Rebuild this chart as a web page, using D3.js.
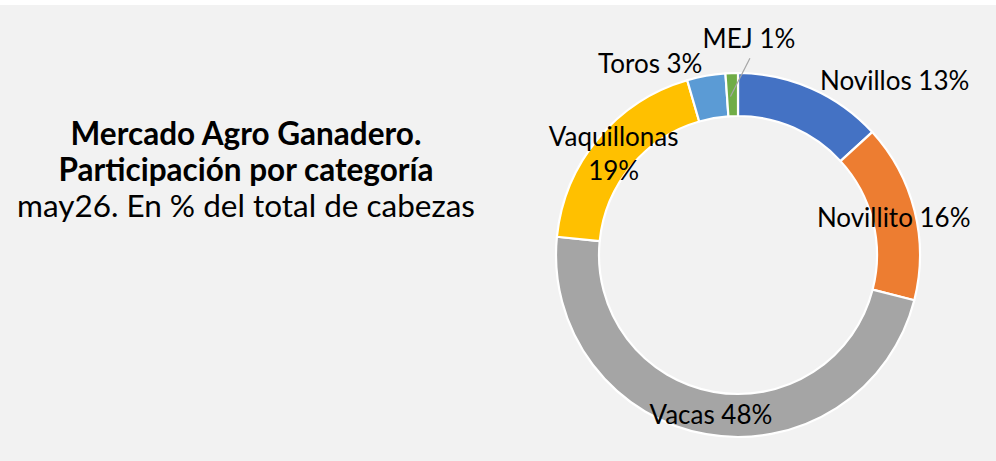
<!DOCTYPE html>
<html>
<head>
<meta charset="utf-8">
<script src="https://cdn.jsdelivr.net/npm/d3@7"></script>
<style>
  html, body { margin: 0; padding: 0; background: #ffffff; }
  svg { display: block; }
</style>
</head>
<body>
<svg id="chart" width="996" height="461"></svg>
<script>
// ---- data ----
const categories = ["Novillos", "Novillito", "Vacas", "Vaquillonas", "Toros", "MEJ"];
const shares = [13.2, 15.8, 47.6, 18.9, 3.4, 1.1];
const colors = ["#4472C4", "#ED7D31", "#A5A5A5", "#FFC000", "#5B9BD5", "#70AD47"];
const titleLines = ["Mercado Agro Ganadero.", "Participación por categoría", "may26. En % del total de cabezas"];

// ---- layout ----
const W = 996, H = 461;
const cx = 738, cy = 255, rOuter = 182, rInner = 139;
const labelFont = "Lato, 'Open Sans', sans-serif";
const labelSize = 26;
// label placement: offset from arc centroid (dx, dy) for vertical middle of label
const labelLayout = [
  { dx: 92, dy: -27, lines: 1 },   // Novillos
  { dx: 0, dy: 2, lines: 1 },      // Novillito
  { dx: 1, dy: 2, lines: 1 },      // Vacas
  { dx: -1, dy: 2, lines: 2 },     // Vaquillonas
  { lines: 1 },                    // Toros (polar)
  { lines: 1, leader: true }       // MEJ (polar)
];
const outerLabelPolar = { 4: { ang: -24.7, r: 210 }, 5: { ang: 2.9, r: 216 } };

const svg = d3.select("#chart");
svg.append("rect").attr("x", 0).attr("y", 5).attr("width", W).attr("height", H - 5).attr("fill", "#f2f2f2");

// title
const title = svg.append("text")
  .attr("text-anchor", "middle")
  .attr("font-family", labelFont)
  .attr("fill", "#000");
const titleY = [145, 181, 217];
titleLines.forEach((t, i) => {
  title.append("tspan")
    .attr("x", 246)
    .attr("y", titleY[i])
    .attr("font-size", 31.5)
    .attr("font-weight", i < 2 ? "bold" : "normal")
    .text(t);
});

const pie = d3.pie().sort(null).value(d => d).startAngle(0).endAngle(2 * Math.PI);
const arcs = pie(shares);
const arc = d3.arc().innerRadius(rInner).outerRadius(rOuter);
const mid = d3.arc().innerRadius((rInner + rOuter) / 2).outerRadius((rInner + rOuter) / 2);

const g = svg.append("g").attr("transform", `translate(${cx},${cy})`);
g.selectAll("path.slice")
  .data(arcs)
  .join("path")
  .attr("class", "slice")
  .attr("d", arc)
  .attr("fill", (d, i) => colors[i])
  .attr("stroke", "#ffffff")
  .attr("stroke-width", 2.2)
  .attr("stroke-linejoin", "round");

// labels
const pct = v => Math.round(v) + "%";
arcs.forEach((d, i) => {
  const L = labelLayout[i];
  let x, y;
  if (outerLabelPolar[i]) {
    const a = outerLabelPolar[i].ang * Math.PI / 180;
    x = Math.sin(a) * outerLabelPolar[i].r;
    y = -Math.cos(a) * outerLabelPolar[i].r;
  } else {
    const c = mid.centroid(d);
    x = c[0] + L.dx;
    y = c[1] + L.dy;
  }
  const t = g.append("text")
    .attr("text-anchor", "middle")
    .attr("font-family", labelFont)
    .attr("font-size", labelSize)
    .attr("fill", "#000");
  if (L.lines === 2) {
    t.append("tspan").attr("x", x).attr("y", y - 17).attr("dy", "0.35em").text(categories[i]);
    t.append("tspan").attr("x", x).attr("y", y + 17).attr("dy", "0.35em").text(pct(shares[i]));
  } else {
    t.append("tspan").attr("x", x).attr("y", y).attr("dy", "0.35em").text(categories[i] + " " + pct(shares[i]));
  }
  if (L.leader) {
    const c = mid.centroid(d);
    g.append("line")
      .attr("x1", x + 1).attr("y1", y + 19)
      .attr("x2", c[0] - 2).attr("y2", c[1] + 2)
      .attr("stroke", "#a6a6a6").attr("stroke-width", 1.2);
  }
});
</script>
</body>
</html>
